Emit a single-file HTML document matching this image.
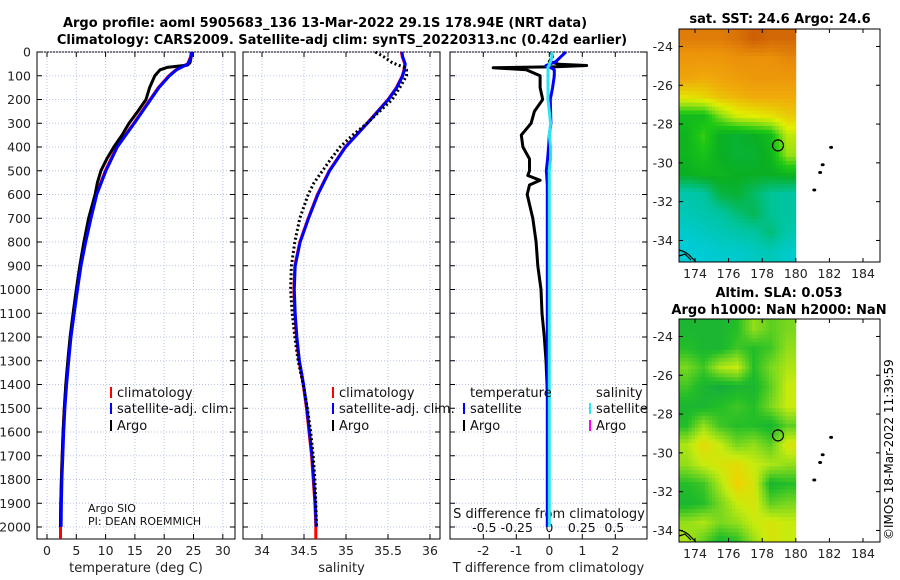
<!DOCTYPE html>
<html><head><meta charset="utf-8"><style>
body{margin:0;background:#fff}
svg{display:block;font-family:"DejaVu Sans","Liberation Sans",sans-serif}
</style></head><body>
<svg id="c" width="900" height="580" viewBox="0 0 900 580">
<text x="325" y="27" text-anchor="middle" font-size="13" font-weight="bold">Argo profile: aoml 5905683_136 13-Mar-2022 29.1S 178.94E (NRT data)</text>
<text x="342" y="44" text-anchor="middle" font-size="13" font-weight="bold">Climatology: CARS2009. Satellite-adj clim: synTS_20220313.nc (0.42d earlier)</text>
<text x="780" y="23" text-anchor="middle" font-size="13" font-weight="bold">sat. SST: 24.6 Argo: 24.6</text>
<text x="779" y="297" text-anchor="middle" font-size="13" font-weight="bold">Altim. SLA: 0.053</text>
<text x="779" y="314" text-anchor="middle" font-size="13" font-weight="bold">Argo h1000: NaN h2000: NaN</text>
<text transform="translate(893,540) rotate(-90)" font-size="12">©IMOS 18-Mar-2022 11:39:59</text>
<g id="g"></g>
</svg>
<script>
// ---- data ----
const depthTicks=[0,100,200,300,400,500,600,700,800,900,1000,1100,1200,1300,1400,1500,1600,1700,1800,1900,2000];
const tTicks=[0,5,10,15,20,25,30];
const sTicks=[34,34.5,35,35.5,36];
const dtTicks=[-2,-1,0,1,2];
const dsTicks=[-0.5,-0.25,0,0.25,0.5];
const climDepth=[0,20,50,75,100,150,200,300,400,500,600,700,800,900,1000,1100,1200,1300,1400,1500,1600,1700,1800,1900,2000,2050];
const climT=[24.6,24.5,24.0,22.0,20.8,19.0,17.6,14.8,11.9,9.95,8.4,7.4,6.5,5.7,5.1,4.55,4.0,3.6,3.25,2.95,2.75,2.6,2.45,2.35,2.3,2.3];
const climS=[35.66,35.67,35.7,35.69,35.67,35.6,35.5,35.25,34.99,34.8,34.66,34.55,34.45,34.39,34.38,34.39,34.41,34.44,34.49,34.53,34.56,34.59,34.61,34.63,34.64,34.64];
const argoDepth=[0,20,45,55,65,75,100,150,200,250,300,350,400,450,500,550,600,700,800,900,1000,1100,1200,1300,1400,1500,1600,1700,1800,1900,2000];
const argoT=[24.7,24.6,24.4,24.0,20.5,19.3,18.4,17.5,16.9,15.5,14.0,12.8,11.4,10.2,9.2,8.6,8.2,7.1,6.3,5.6,5.0,4.45,3.95,3.55,3.2,2.95,2.75,2.6,2.45,2.35,2.3];
const argoS=[35.35,35.45,35.55,35.62,35.7,35.72,35.72,35.64,35.55,35.4,35.25,35.08,34.93,34.82,34.72,34.62,34.55,34.45,34.39,34.35,34.34,34.36,34.39,34.43,34.49,34.54,34.58,34.61,34.63,34.64,34.65];
const dDepth=[0,20,40,52,57,62,66,75,100,150,200,250,300,350,400,450,500,520,540,560,600,700,800,900,1000,1100,1200,1300,1400,1500,1600,1800,2000];
const dT=[0.05,0.1,0.0,0.3,1.13,0.2,-1.7,-0.7,-0.28,-0.28,-0.2,-0.45,-0.55,-0.85,-0.8,-0.6,-0.6,-0.65,-0.28,-0.6,-0.67,-0.5,-0.4,-0.35,-0.25,-0.22,-0.15,-0.1,-0.07,-0.04,-0.02,-0.02,-0.04];
const satT=[0.5,0.35,0.2,0.0,-0.1,-0.1,0.05,0.15,0.15,0.1,0.03,0.04,0.05,0.0,-0.02,-0.05,-0.09,-0.08,-0.07,-0.06,-0.06,-0.06,-0.06,-0.06,-0.06,-0.06,-0.06,-0.06,-0.06,-0.06,-0.06,-0.06,-0.06];
const satS=[0.02,0.02,0.01,0.0,0.0,-0.01,-0.01,-0.01,-0.01,-0.01,-0.01,0.0,0.01,0.0,0.01,0.01,0.0,0.0,0.0,0.0,0.0,0.0,0.0,0.0,0.0,0.0,0.0,0.0,0.0,0.0,0.0,0.0,0.0];
const lonTicks=[174,176,178,180,182,184];
const latTicks=[-24,-26,-28,-30,-32,-34];
const sstGrid=[
[26.2,26.2,26.2,26.3,26.5,26.4,26.4],
[25.9,25.9,25.9,26.0,26.0,26.0,26.1],
[25.7,25.6,25.7,25.8,25.9,25.9,25.9],
[25.1,25.2,25.4,25.5,25.6,25.6,25.6],
[23.9,23.9,24.5,24.9,25.0,25.1,25.3],
[23.8,24.2,23.7,23.6,23.7,23.9,24.8],
[23.8,24.0,23.7,23.6,23.6,23.8,24.6],
[23.7,23.8,23.8,23.7,23.7,23.7,23.8],
[22.8,22.9,23.5,23.6,23.3,23.0,22.9],
[22.7,22.8,22.9,23.2,23.4,23.0,22.9],
[22.5,22.6,22.7,22.8,22.9,23.2,22.8],
[22.4,22.4,22.5,22.5,22.6,22.7,22.5]];
const slaGrid=[
[0.2,0.2,0.2,0.3,0.7,0.5,0.6],
[0.3,0.2,0.2,0.4,0.3,0.4,0.7],
[0.6,0.4,0.8,0.9,0.3,0.6,0.8],
[0.4,0.2,0.1,0.2,0.2,0.5,0.9],
[0.2,0.2,0.3,0.4,0.3,0.6,0.9],
[0.3,0.7,0.4,0.3,0.3,0.2,0.5],
[0.8,1.1,0.9,0.6,0.7,0.5,1.0],
[0.7,0.9,1.0,1.1,0.9,0.8,0.7],
[0.3,0.4,0.8,1.2,1.0,0.2,0.3],
[0.2,0.3,0.6,0.9,1.0,0.5,0.6],
[0.7,0.8,0.6,0.7,0.9,1.0,0.9],
[0.8,0.5,0.2,0.3,0.7,1.0,0.9]];
const argoLon=178.94, argoLat=-29.1;
const islLon=[182.1,181.6,181.45,181.1];
const islLat=[-29.2,-30.1,-30.5,-31.4];

// ---- drawing ----
const NS='http://www.w3.org/2000/svg';
const G=document.getElementById('g');
function mk(t,a,p){const e=document.createElementNS(NS,t);for(const k in a)e.setAttribute(k,a[k]);(p||G).appendChild(e);return e;}
const Y=d=>52+d*0.2375;
const PB=539;
const panels=[
 {x0:37,x1:235,X:v=>47+v*5.86},
 {x0:243,x1:440,X:v=>262+(v-34)*84},
 {x0:450,x1:647,X:v=>549.3+v*33}];
const XS=v=>549.3+v*130;
panels.forEach((p,i)=>{
 const fr=mk('rect',{x:p.x0,y:52,width:p.x1-p.x0,height:PB-52,fill:'#fff',stroke:'#000','stroke-width':1});
 
 
 depthTicks.forEach(d=>{
  const l=mk('line',{x1:p.x0,x2:p.x1,y1:Y(d),y2:Y(d),stroke:'#b8c4e8','stroke-dasharray':'1,2','stroke-width':1});
  
  
  mk('line',{x1:p.x0,x2:p.x0+5,y1:Y(d),y2:Y(d),stroke:'#000'});
  mk('line',{x1:p.x1,x2:p.x1-5,y1:Y(d),y2:Y(d),stroke:'#000'});
 });
});
depthTicks.forEach(d=>{
 const t=mk('text',{x:31,y:Y(d)+4.5,'text-anchor':'end','font-size':12.5,fill:'#222'});
 t.textContent=d;
 
 
});
function xt(p,ticks,X,lab){
 ticks.forEach(v=>{
  const x=X(v);
  const g=mk('line',{x1:x,x2:x,y1:52,y2:PB,stroke:'#b8c4e8','stroke-dasharray':'1,2'});
  
  
  mk('line',{x1:x,x2:x,y1:PB,y2:PB-5,stroke:'#000'});
  mk('line',{x1:x,x2:x,y1:52,y2:57,stroke:'#000'});
  const t=mk('text',{x:x,y:555,'text-anchor':'middle','font-size':12.5,fill:'#222'});
  t.textContent=v;
  
  
 });
 const l=mk('text',{x:(p.x0+p.x1)/2,y:572,'text-anchor':'middle','font-size':13,fill:'#222'});
 l.textContent=lab;
 
 
}
xt(panels[0],tTicks,panels[0].X,'temperature (deg C)');
xt(panels[1],sTicks,panels[1].X,'salinity');
xt(panels[2],dtTicks,panels[2].X,'T difference from climatology');
dsTicks.forEach(v=>{
 const t=mk('text',{x:XS(v),y:532,'text-anchor':'middle','font-size':12.5,fill:'#111'});
 t.textContent=v;
 
 
});
{const t=mk('text',{x:549,y:518,'text-anchor':'middle','font-size':13,fill:'#111'});t.textContent='S difference from climatology';

}

function line(ds,vs,X,col,w,name,dash){
 const pts=ds.map((d,i)=>X(vs[i]).toFixed(1)+','+Y(d).toFixed(1)).join(' ');
 const a={points:pts,fill:'none',stroke:col,'stroke-width':w,'stroke-linejoin':'round'};
 if(dash)a['stroke-dasharray']=dash;
 const e=mk('polyline',a);
 
 
}
const P=panels;
line(climDepth,climT,P[0].X,'#f00',3,'temp-climatology-line');
line(argoDepth,argoT,P[0].X,'#000',3,'temp-argo-line');
line(climDepth.slice(0,-1),climT.slice(0,-1).map(v=>v+0.1),P[0].X,'#00f',3,'temp-satellite-line');
line(climDepth,climS,P[1].X,'#f00',3,'sal-climatology-line');
line(climDepth.slice(0,-1),climS.slice(0,-1).map(v=>v+0.005),P[1].X,'#00f',3,'sal-satellite-line');
line(argoDepth,argoS,P[1].X,'#000',3,'sal-argo-line','2,2.5');
line(dDepth,dT,P[2].X,'#000',3,'tdiff-argo-line');
line(dDepth,satS,XS,'#f0f',2,'sdiff-argo-line');
line(dDepth,satT,P[2].X,'#00f',3,'tdiff-satellite-line');
line(dDepth,satS,XS,'#2ee6f0',3,'sdiff-satellite-line');

function leg(x,y,col,txt,name){
 mk('rect',{x:x,y:y-10,width:2,height:11,fill:col});
 const t=mk('text',{x:x+7,y:y,'font-size':13,fill:'#111'});t.textContent=txt;
 
 
}
leg(110,397,'#f00','climatology','legend-climatology');
leg(110,413,'#00f','satellite-adj. clim.','legend-satellite');
leg(110,430,'#000','Argo','legend-argo');
leg(332,397,'#f00','climatology','legend2-climatology');
leg(332,413,'#00f','satellite-adj. clim.','legend2-satellite');
leg(332,430,'#000','Argo','legend2-argo');
{const t=mk('text',{x:470,y:397,'font-size':13,fill:'#111'});t.textContent='temperature';

}
{const t=mk('text',{x:596,y:397,'font-size':13,fill:'#111'});t.textContent='salinity';

}
leg(463,413,'#00f','satellite','legend-t-satellite');
leg(463,430,'#000','Argo','legend-t-argo');
leg(589,413,'#2ee6f0','satellite','legend-s-satellite');
leg(589,430,'#f0f','Argo','legend-s-argo');
{const t=mk('text',{x:88,y:512,'font-size':11,fill:'#111'});t.textContent='Argo SIO';

}
{const t=mk('text',{x:88,y:525,'font-size':11,fill:'#111'});t.textContent='PI: DEAN ROEMMICH';

}

// colormaps
const sstStops=[[22.3,[0,205,225]],[23.0,[0,195,150]],[23.7,[10,175,35]],[24.1,[30,200,20]],[24.6,[150,225,20]],[25.0,[225,238,0]],[25.6,[240,170,10]],[26.0,[235,145,10]],[26.5,[205,95,5]]];
const slaStops=[[0,[15,165,70]],[0.3,[35,190,40]],[0.6,[120,215,30]],[0.9,[200,235,15]],[1.2,[240,210,0]]];
function cm(stops,v){
 if(v<=stops[0][0])return stops[0][1];
 for(let i=1;i<stops.length;i++){if(v<=stops[i][0]){const a=stops[i-1],b=stops[i],t=(v-a[0])/(b[0]-a[0]);return a[1].map((c,k)=>Math.round(c+(b[1][k]-c)*t));}}
 return stops[stops.length-1][1];
}
function sample(grid,fr,fc){
 const R=grid.length,C=grid[0].length;
 const r=Math.max(0,Math.min(R-1,fr-0.5)),c=Math.max(0,Math.min(C-1,fc-0.5));
 const r0=Math.floor(r),c0=Math.floor(c),r1=Math.min(R-1,r0+1),c1=Math.min(C-1,c0+1);
 const tr=r-r0,tc=c-c0;
 return grid[r0][c0]*(1-tr)*(1-tc)+grid[r0][c1]*(1-tr)*tc+grid[r1][c0]*tr*(1-tc)+grid[r1][c1]*tr*tc;
}
function map(top,bot,grid,stops,name){
 const sy=19.4;
 const latTop=-23.1;
 const LX=lon=>678.2+(lon-173)*16.8;
 const LY=lat=>top+(latTop-lat)*sy;
 const f=mk('rect',{x:679,y:top,width:201,height:bot-top,fill:'#fff',stroke:'#000'});
 
 
 const S=5;
 const R=grid.length,C=grid[0].length;
 for(let r=0;r<R*S;r++)for(let c=0;c<C*S;c++){
  const lat0=latTop-r/S,lat1=latTop-(r+1)/S;
  const y0=LY(lat0),y1=Math.min(bot,LY(lat1));
  if(y0>=bot)continue;
  const x0=Math.max(679,LX(173+c/S)),x1=LX(173+(c+1)/S);
  const v=sample(grid,(r+0.5)/S,(c+0.5)/S);
  const e=mk('rect',{x:x0.toFixed(1),y:y0.toFixed(1),width:(x1-x0+0.4).toFixed(1),height:(y1-y0+0.4).toFixed(1),fill:'rgb('+cm(stops,v).join(',')+')'});
  
  
 }
 mk('rect',{x:679,y:top,width:201,height:bot-top,fill:'none',stroke:'#000'});
 mk('path',{d:`M679 ${bot-12} q8 2 12 7 l5 5 M679 ${bot-6} l6 -2 l6 6`,stroke:'#000',fill:'none','stroke-width':1.2});
 lonTicks.forEach(l=>{const x=LX(l);mk('line',{x1:x,x2:x,y1:bot,y2:bot-4,stroke:'#000'});mk('line',{x1:x,x2:x,y1:top,y2:top+4,stroke:'#000'});
  const t=mk('text',{x:x,y:bot+16,'text-anchor':'middle','font-size':12.5,fill:'#222'});t.textContent=l;
  
  });
 latTicks.forEach(l=>{const y=LY(l);mk('line',{x1:679,x2:683,y1:y,y2:y,stroke:'#000'});mk('line',{x1:880,x2:876,y1:y,y2:y,stroke:'#000'});
  const t=mk('text',{x:673,y:y+4.5,'text-anchor':'end','font-size':12.5,fill:'#222'});t.textContent=l;
  
  });
 islLon.forEach((l,i)=>{const e=mk('ellipse',{cx:LX(l),cy:LY(islLat[i]),rx:2,ry:1.5,fill:'#000'});
  
  });
 const c=mk('circle',{cx:LX(argoLon),cy:LY(argoLat),r:5.5,fill:'none',stroke:'#000','stroke-width':1.2});
 
 
}
map(29,262,sstGrid,sstStops,'sst-map');
map(319,542,slaGrid,slaStops,'sla-map');
</script>
</body></html>
